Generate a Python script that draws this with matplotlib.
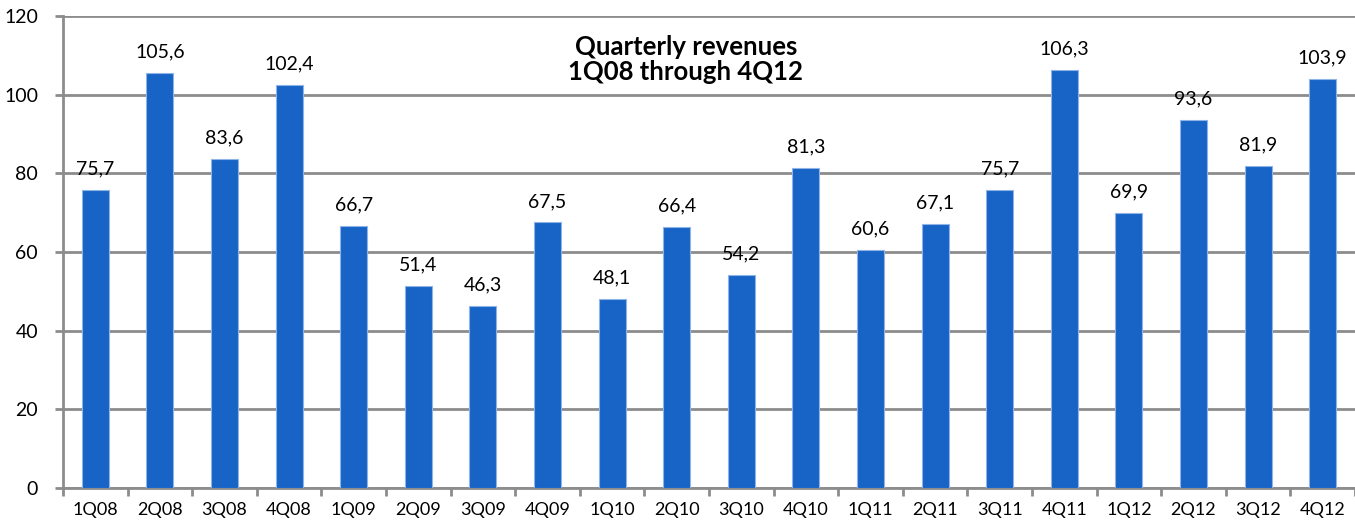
import matplotlib
matplotlib.use("Agg")
from matplotlib import pyplot
import numpy

quarters = ["1Q08", "2Q08", "3Q08", "4Q08", "1Q09", "2Q09", "3Q09", "4Q09",
            "1Q10", "2Q10", "3Q10", "4Q10", "1Q11", "2Q11", "3Q11", "4Q11",
            "1Q12", "2Q12", "3Q12", "4Q12"]
revenues = [75.7, 105.6, 83.6, 102.4, 66.7, 51.4, 46.3, 67.5,
            48.1, 66.4, 54.2, 81.3, 60.6, 67.1, 75.7, 106.3,
            69.9, 93.6, 81.9, 103.9]
yticks = [0, 20, 40, 60, 80, 100, 120]

pyplot.rcParams["font.family"] = ["Lato", "DejaVu Sans"]

fig = pyplot.figure(figsize=(13.55, 5.24), dpi=100)
ax = fig.add_axes([0.0465, 0.0687, 0.9535, 0.9008])

x = numpy.arange(len(quarters))
bars = ax.bar(x, revenues, width=0.42, color="#1763C6", edgecolor="#8FB4E8",
              linewidth=0.8, zorder=3)

for bar, val in zip(bars, revenues):
    ax.annotate(
        f"{val:.1f}".replace(".", ","),
        xy=(bar.get_x() + bar.get_width() / 2, bar.get_height()),
        xytext=(0, 9),
        textcoords="offset points",
        ha="center",
        va="bottom",
        fontsize=14,
    )

ax.set_xlim(-0.5, len(quarters) - 0.5)
ax.set_ylim(0, 120)
ax.set_yticks(yticks)
ax.set_yticklabels([str(t) for t in yticks], fontsize=14)
ax.yaxis.grid(True, color="#8C8C8C", linewidth=2, zorder=0)

# category labels centred, tick marks on the category boundaries
ax.set_xticks(x)
ax.set_xticklabels(quarters, fontsize=13)
ax.tick_params(axis="x", which="major", length=0, pad=10)
ax.set_xticks(numpy.arange(-0.5, len(quarters), 1), minor=True)
ax.tick_params(axis="x", which="minor", length=6, width=2, color="#8C8C8C")
ax.tick_params(axis="y", length=6, width=2, color="#8C8C8C", pad=12)

for side in ["top", "right"]:
    ax.spines[side].set_visible(False)
for side in ["left", "bottom"]:
    ax.spines[side].set_color("#8C8C8C")
    ax.spines[side].set_linewidth(2)

ax.text(0.482, 0.96, "Quarterly revenues\n1Q08 through 4Q12", transform=ax.transAxes,
        ha="center", va="top", fontsize=18.5, fontweight="bold", linespacing=1.05)

fig.savefig("out.png", dpi=100)
pyplot.close(fig)
